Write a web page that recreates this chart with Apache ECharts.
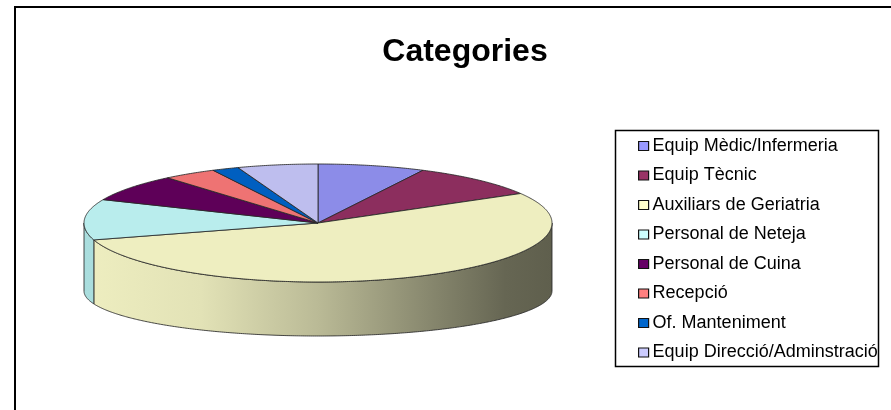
<!DOCTYPE html>
<html>
<head>
<meta charset="utf-8">
<script src="https://cdn.jsdelivr.net/npm/echarts@6/dist/echarts.min.js"></script>
<style>
html,body{margin:0;padding:0;background:#fff;}
#chart{width:891px;height:410px;}
</style>
</head>
<body>
<div id="chart"></div>
<script>
// ---- data ----
const categories = ['Equip Mèdic/Infermeria','Equip Tècnic','Auxiliars de Geriatria','Personal de Neteja','Personal de Cuina','Recepció','Of. Manteniment','Equip Direcció/Adminstració'];
const values = [4, 5, 29, 6, 4, 2, 1, 3];
const titleText = 'Categories';

// ---- styles ----
const legendColors = ['#9999FF','#993366','#FFFFCC','#CCFFFF','#660066','#FF8080','#0066CC','#CCCCFF'];
const topColors    = ['#8c8ce8','#8c2e5e','#eeeec0','#b9eded','#5e0058','#ee7373','#005fc0','#bebeee'];
const sideColors   = ['#8080d8','#7e2654','#eeeec0','#aadede','#520050','#dd6464','#0055b0','#b0b0e0'];

const CX = 318, CY = 223, RX = 234, RYT = 59;
const DY = 68, RYB = 45;
const D = DY / RYT, KB = RYB / RYT;

function shade(hex, f) {
  const n = parseInt(hex.slice(1), 16);
  const r = Math.round(((n >> 16) & 255) * f), g = Math.round(((n >> 8) & 255) * f), b = Math.round((n & 255) * f);
  return 'rgb(' + r + ',' + g + ',' + b + ')';
}
function sideFill(hex) {
  return {
    type: 'linear', x: CX - RX, y: 0, x2: CX + RX, y2: 0, global: true,
    colorStops: [
      {offset: 0, color: shade(hex, 1.0)},
      {offset: 0.25, color: shade(hex, 0.95)},
      {offset: 0.5, color: shade(hex, 0.78)},
      {offset: 0.75, color: shade(hex, 0.56)},
      {offset: 0.9, color: shade(hex, 0.43)},
      {offset: 1, color: shade(hex, 0.40)}
    ]
  };
}

const total = values.reduce((a, b) => a + b, 0);
const starts = [];
values.reduce((acc, v, i) => { starts[i] = acc; return acc + v; }, 0);

function makeRender(i) {
  return function (params, api) {
    const a0 = starts[i] / total * Math.PI * 2;
    const a1 = (starts[i] + values[i]) / total * Math.PI * 2;
    const step = Math.PI / 360;
    const children = [];
    // side (front half only)
    const s0 = Math.max(a0, Math.PI / 2), s1 = Math.min(a1, Math.PI * 1.5);
    if (s1 > s0) {
      const pts = [];
      for (let t = s0; t < s1; t += step) pts.push(api.coord([Math.sin(t), Math.cos(t)]));
      pts.push(api.coord([Math.sin(s1), Math.cos(s1)]));
      pts.push(api.coord([Math.sin(s1), Math.cos(s1) * KB - D]));
      for (let t = s1; t > s0; t -= step) pts.push(api.coord([Math.sin(t), Math.cos(t) * KB - D]));
      pts.push(api.coord([Math.sin(s0), Math.cos(s0) * KB - D]));
      children.push({
        type: 'polygon', shape: {points: pts},
        style: {fill: sideFill(sideColors[i]), stroke: 'rgba(40,40,40,0.85)', lineWidth: 1}
      });
    }
    // top surface
    const tp = [api.coord([0, 0])];
    for (let t = a0; t < a1; t += step) tp.push(api.coord([Math.sin(t), Math.cos(t)]));
    tp.push(api.coord([Math.sin(a1), Math.cos(a1)]));
    children.push({
      type: 'polygon', shape: {points: tp},
      style: {fill: topColors[i], stroke: 'rgba(40,40,40,0.85)', lineWidth: 1}
    });
    return {type: 'group', children: children};
  };
}

const series = categories.map((name, i) => ({
  type: 'custom',
  name: name,
  data: [[0, 0]],
  itemStyle: {color: legendColors[i]},
  renderItem: makeRender(i),
  silent: true,
  clip: false
}));

const chart = echarts.init(document.getElementById('chart'), null, {renderer: 'canvas'});
chart.setOption({
  animation: false,
  backgroundColor: '#fff',
  grid: {left: CX - RX, top: CY - RYT, width: RX * 2, height: RYT * 2, show: false},
  xAxis: {type: 'value', min: -1, max: 1, show: false},
  yAxis: {type: 'value', min: -1, max: 1, show: false},
  legend: {
    data: categories,
    orient: 'vertical',
    left: 638, top: 136,
    padding: 0,
    itemWidth: 10, itemHeight: 9, itemGap: 9.5,
    icon: 'rect',
    selectedMode: false,
    itemStyle: {borderColor: '#111', borderWidth: 1.2},
    textStyle: {fontFamily: '"Liberation Sans", Arial, sans-serif', fontSize: 18, color: '#000', lineHeight: 20, padding: [0, 0, 0, -1]}
  },
  graphic: [
    {type: 'rect', shape: {x: 15, y: 7, width: 900, height: 430}, style: {fill: 'none', stroke: '#000', lineWidth: 2}, z: 100},
    {type: 'rect', shape: {x: 615.5, y: 130.5, width: 263, height: 236}, style: {fill: 'none', stroke: '#000', lineWidth: 1.5}, z: 100},
    {type: 'text', x: 465, y: 52, style: {text: titleText, align: 'center', verticalAlign: 'middle', fontFamily: '"Liberation Sans", Arial, sans-serif', fontWeight: 'bold', fontSize: 32, fill: '#000'}, z: 100}
  ],
  series: series
});
</script>
</body>
</html>
